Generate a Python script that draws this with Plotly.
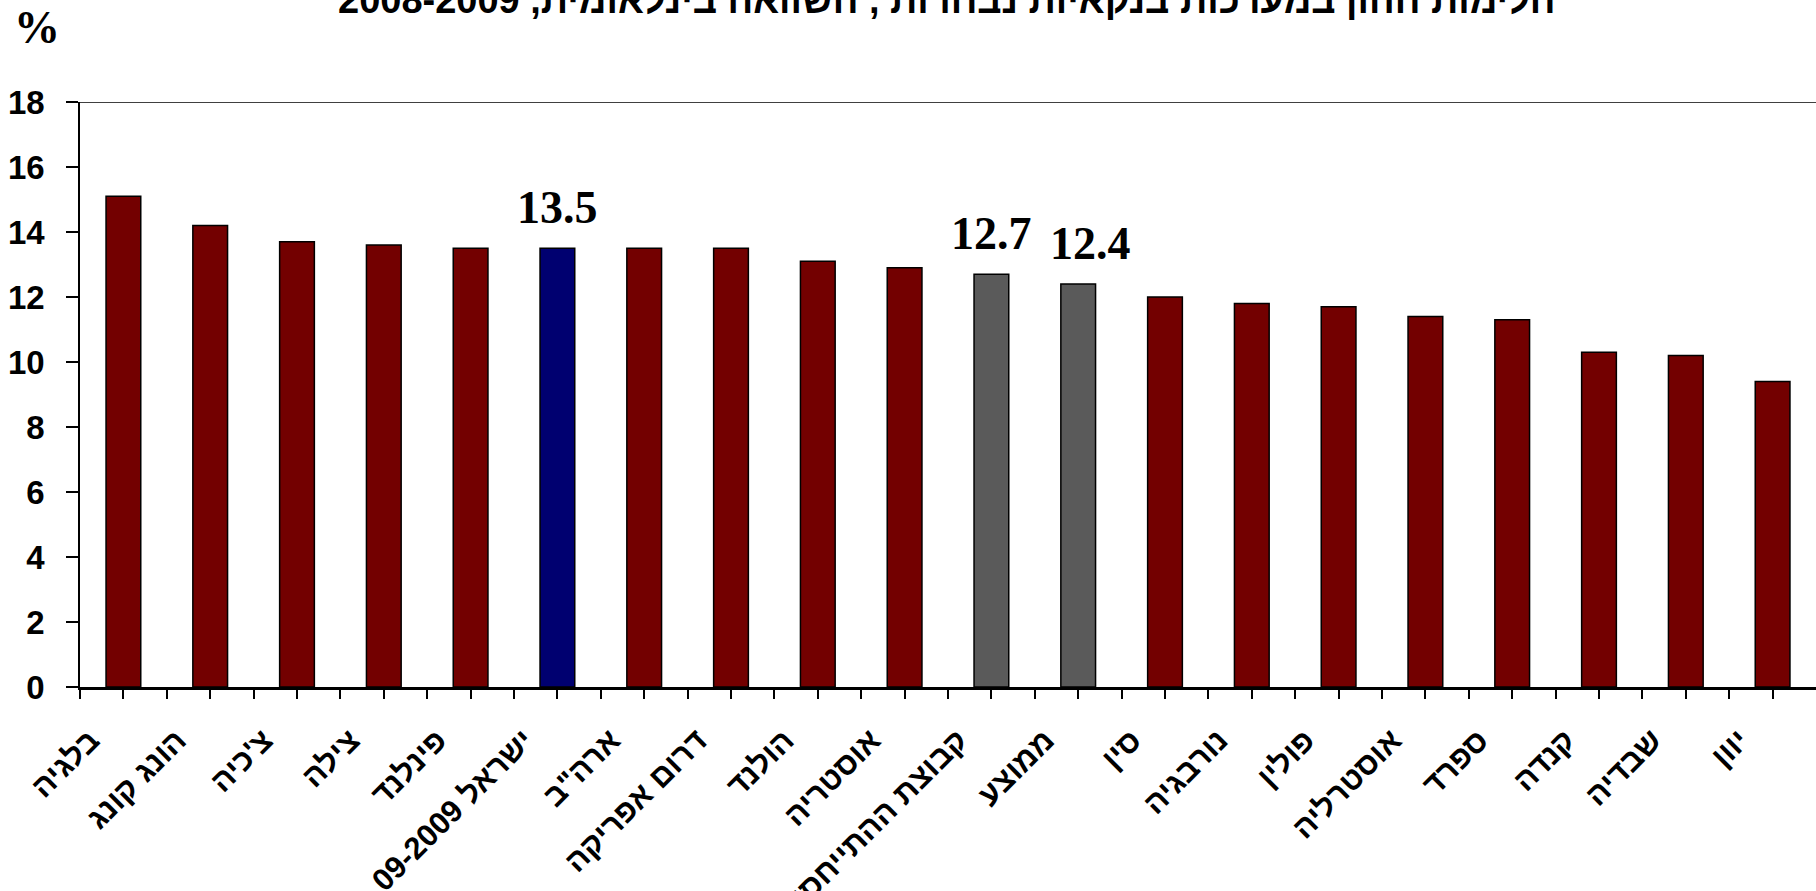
import plotly.graph_objects as go

# ---- data ----
categories = [
    "בלגיה", "הונג קונג", "צ'כיה", "צילה", "פינלנד", "ישראל 09-2009",
    'ארה"ב', "דרום אפריקה", "הולנד", "אוסטריה", "קבוצת ההתייחסות", "ממוצע",
    "סין", "נורבגיה", "פולין", "אוסטרליה", "ספרד", "קנדה", "שבדיה", "יוון",
]
values = [15.1, 14.2, 13.7, 13.6, 13.5, 13.5, 13.5, 13.5, 13.1, 12.9,
          12.7, 12.4, 12.0, 11.8, 11.7, 11.4, 11.3, 10.3, 10.2, 9.4]
highlight_israel = ["ישראל 09-2009"]
highlight_group = ["קבוצת ההתייחסות", "ממוצע"]
labelled = ["ישראל 09-2009", "קבוצת ההתייחסות", "ממוצע"]
y_ticks = [0, 2, 4, 6, 8, 10, 12, 14, 16, 18]
title_text = "הלימות ההון במערכות בנקאיות נבחרות , השוואה בינלאומית, 2008-2009"
unit_text = "%"

# ---- styles ----
RED = "#730000"
NAVY = "#000070"
GREY = "#5a5a5a"
SANS = "Liberation Sans, Arial, DejaVu Sans, sans-serif"
SERIF = "Liberation Serif, Times New Roman, serif"
Y_MAX = y_ticks[-1]
LRM = "\u200e"  # keeps the right-hand end of Hebrew labels as the anchored end

xpos = list(range(len(categories)))
colors = [NAVY if c in highlight_israel else GREY if c in highlight_group else RED
          for c in categories]

fig = go.Figure()
fig.add_trace(go.Bar(
    x=xpos, y=values, width=0.4,
    marker=dict(color=colors, line=dict(color="black", width=1.5)),
    hoverinfo="skip", showlegend=False,
))

# x ticks at category centres (labelled) and boundaries (unlabelled)
tickvals, ticktext = [], []
for i, c in enumerate(categories):
    tickvals.append(i - 0.5); ticktext.append("")
    tickvals.append(i); ticktext.append(LRM + c + LRM)

fig.update_xaxes(
    range=[-0.5, len(categories) - 0.5], automargin=False,
    tickmode="array", tickvals=tickvals, ticktext=ticktext,
    tickangle=-45, ticks="outside", ticklen=9, tickwidth=1.5, tickcolor="black",
    showline=True, linecolor="black", linewidth=2.5,
    showgrid=False, zeroline=False,
    ticklabelstandoff=11, ticklabelshift=-33,
    tickfont=dict(family=SANS, size=31, color="black", weight="bold"),
)
fig.update_yaxes(
    range=[0, Y_MAX], automargin=False, tickmode="array", tickvals=y_ticks,
    ticks="outside", ticklen=12, tickwidth=1.5, tickcolor="black",
    showline=True, linecolor="black", linewidth=1.5,
    showgrid=False, zeroline=False, ticklabelstandoff=15,
    tickfont=dict(family=SANS, size=33, color="black", weight="bold"),
)

# top frame line at the maximum of the value axis
fig.add_shape(type="line", xref="paper", yref="y", x0=0, x1=1, y0=Y_MAX, y1=Y_MAX,
              line=dict(color="black", width=1.3))

# value labels
for i, (c, v) in enumerate(zip(categories, values)):
    if c in labelled:
        fig.add_annotation(
            x=i, y=v, xref="x", yref="y", text=f"{v:.1f}", showarrow=False,
            yanchor="middle", yshift=41, xshift=12 if c == "ממוצע" else 0,
            font=dict(family=SERIF, size=46, color="black", weight="bold"),
        )

# title (clipped by the top edge as in the original) and unit label
fig.add_annotation(
    x=0.499, y=1.135, xref="paper", yref="paper", text=title_text, showarrow=False,
    xanchor="center", yanchor="bottom",
    font=dict(family=SANS, size=38, color="black", weight="bold"),
)
fig.add_annotation(
    x=-0.0248, y=1.1265, xref="paper", yref="paper", text=unit_text, showarrow=False,
    xanchor="center", yanchor="middle",
    font=dict(family=SERIF, size=46, color="black", weight="bold"),
)

fig.update_layout(
    width=1816, height=891,
    margin=dict(l=80, r=0, t=102, b=204, autoexpand=False),
    paper_bgcolor="white", plot_bgcolor="white",
    bargap=0.6,
)

fig.write_html(
    "out.html",
    config={"displayModeBar": False},
    post_script="document.body.style.margin='0';document.body.style.overflow='hidden';",
)
